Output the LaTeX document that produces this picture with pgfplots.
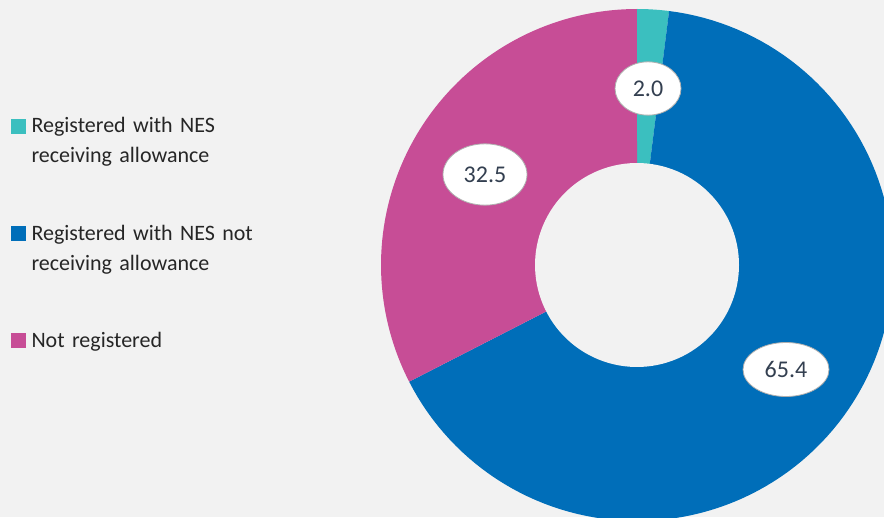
\documentclass[border=0pt]{standalone}
\usepackage{pgfplots}
\pgfplotsset{compat=1.18}
\usepackage{pgfplotstable}
\usepackage{fontspec}
\setmainfont{Carlito}
\usetikzlibrary{shapes.geometric}
\definecolor{bg}{RGB}{242,242,242}
\definecolor{cteal}{RGB}{59,191,191}
\definecolor{cblue}{RGB}{0,110,185}
\definecolor{cpink}{RGB}{199,77,150}
\definecolor{ctext}{RGB}{51,63,80}
\definecolor{cedge}{RGB}{175,175,175}

\pgfplotstableread{
share
2.0
65.4
32.5
}\shares
\pgfplotstablegetelem{0}{share}\of\shares \let\va\pgfplotsretval
\pgfplotstablegetelem{1}{share}\of\shares \let\vb\pgfplotsretval
\pgfplotstablegetelem{2}{share}\of\shares \let\vc\pgfplotsretval
\pgfmathsetmacro\tot{\va+\vb+\vc}
\pgfmathsetmacro\fa{\va/\tot}
\pgfmathsetmacro\fb{\vb/\tot}
\pgfmathsetmacro\fc{\vc/\tot}
\pgfmathsetmacro\aA{90}
\pgfmathsetmacro\aB{90-360*\fa}
\pgfmathsetmacro\aC{\aB-360*\fb}
\pgfmathsetmacro\aD{\aC-360*\fc}
\def\cx{637}
\def\cy{252}
\def\Rout{256}
\def\Rin{102}

\begin{document}
\begin{tikzpicture}
\begin{axis}[
  scale only axis,
  width=663pt, height=387.75pt,
  xmin=0, xmax=884, ymin=0, ymax=517,
  axis line style={draw=none},
  xtick=\empty, ytick=\empty,
  axis background/.style={fill=bg},
  clip=true,
  legend style={
    draw=none, fill=none,
    at={(rel axis cs:0.01244,0.7727)}, anchor=north west,
    inner sep=0pt, outer sep=0pt,
    font=\fontsize{16.5}{22.5}\selectfont,
    text=black!85,
    cells={anchor=base west},
    nodes={text width=185pt, align=left, inner sep=0pt},
    column sep=4.5pt,
    row sep=67.5pt,
  },
]
\addplot[forget plot, draw=none, fill=cteal, domain=\aB:\aA, samples=20]
  ({\cx+\Rout*cos(x)},{\cy+\Rout*sin(x)}) -- (axis cs:\cx,\cy) -- cycle;
\addplot[forget plot, draw=none, fill=cblue, domain=\aC:\aB, samples=120]
  ({\cx+\Rout*cos(x)},{\cy+\Rout*sin(x)}) -- (axis cs:\cx,\cy) -- cycle;
\addplot[forget plot, draw=none, fill=cpink, domain=\aD:\aC, samples=80]
  ({\cx+\Rout*cos(x)},{\cy+\Rout*sin(x)}) -- (axis cs:\cx,\cy) -- cycle;
\addplot[forget plot, draw=none, fill=bg, domain=0:360, samples=120]
  ({\cx+\Rin*cos(x)},{\cy+\Rin*sin(x)}) -- cycle;

\addlegendimage{legend image code/.code={\fill[cteal] (0pt,0pt) rectangle (10.5pt,10.5pt);}}
\addlegendentry{Registered with NES\\receiving allowance}
\addlegendimage{legend image code/.code={\fill[cblue] (0pt,0pt) rectangle (10.5pt,10.5pt);}}
\addlegendentry{Registered with NES not\\receiving allowance}
\addlegendimage{legend image code/.code={\fill[cpink] (0pt,0pt) rectangle (10.5pt,10.5pt);}}
\addlegendentry{Not registered}

\node[ellipse, fill=white, draw=cedge, line width=0.6pt, minimum width=49.5pt, minimum height=40pt, inner sep=0pt, text=ctext, font=\fontsize{18}{20}\selectfont] at (axis cs:648,428.5) {2.0};
\node[ellipse, fill=white, draw=cedge, line width=0.6pt, minimum width=63pt, minimum height=46pt, inner sep=0pt, text=ctext, font=\fontsize{18}{20}\selectfont] at (axis cs:485,342.5) {32.5};
\node[ellipse, fill=white, draw=cedge, line width=0.6pt, minimum width=64.5pt, minimum height=40.5pt, inner sep=0pt, text=ctext, font=\fontsize{18}{20}\selectfont] at (axis cs:786,147.5) {65.4};
\end{axis}
\pgfresetboundingbox
\path[use as bounding box] (current axis.south west) rectangle (current axis.north east);
\end{tikzpicture}
\end{document}
